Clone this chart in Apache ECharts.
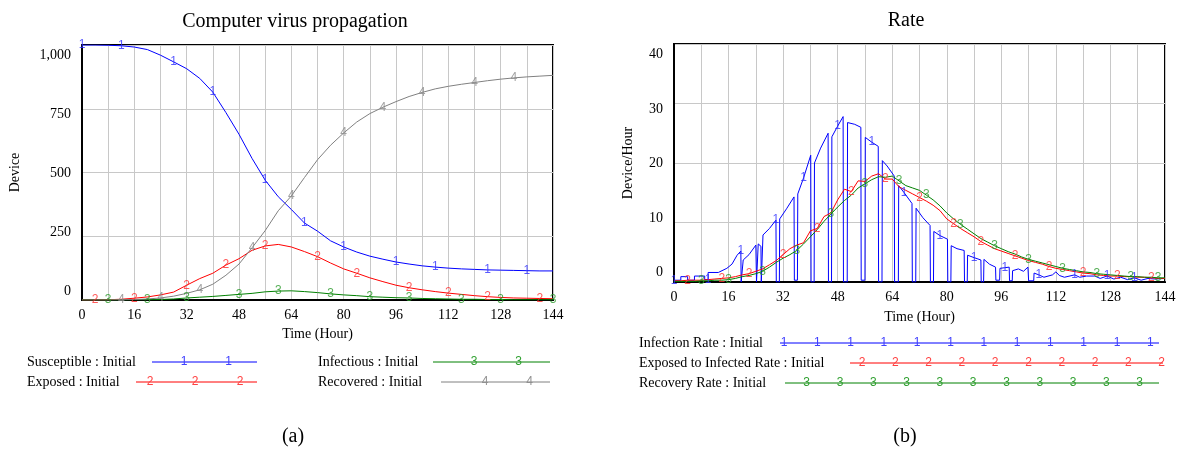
<!DOCTYPE html>
<html>
<head>
<meta charset="utf-8">
<title>Computer virus propagation</title>
<script src="https://cdn.jsdelivr.net/npm/echarts@6/dist/echarts.min.js"></script>
<style>
  html, body { margin: 0; padding: 0; background: #fff; }
  #chart { width: 1179px; height: 456px; }
</style>
</head>
<body>
<div id="chart"></div>
<script>
// (a) stock values, sampled every 4 hours
const hours4 = [0, 4, 8, 12, 16, 20, 24, 28, 32, 36, 40, 44, 48, 52, 56, 60, 64, 68, 72, 76,
  80, 84, 88, 92, 96, 100, 104, 108, 112, 116, 120, 124, 128, 132, 136, 140, 144];
const susceptible = [1000, 1000, 999, 997, 992, 982, 960, 934, 907, 869, 815, 735, 650, 555, 470, 405, 355, 302, 270, 232,
  208, 188, 172, 160, 149, 141, 134, 129, 125, 122, 120, 118, 117, 116, 115, 114, 114];
const exposed = [0, 0, 1, 3, 7, 12, 20, 31, 58, 84, 105, 137, 162, 195, 212, 218, 208, 190, 170, 145,
  122, 105, 87, 72, 58, 48, 40, 33, 27, 22, 17, 13, 10, 8, 7, 6, 5];
const infectious = [0, 0, 0, 0, 1, 1, 2, 4, 8, 11, 14, 18, 22, 26, 32, 35, 36, 33, 29, 24,
  20, 17, 13, 11, 9, 8, 6, 5, 4, 3, 3, 2, 2, 1, 1, 1, 1];
const recovered = [0, 0, 0, 1, 2, 4, 8, 15, 26, 40, 62, 97, 141, 205, 272, 350, 408, 480, 550, 607,
  655, 698, 731, 756, 778, 798, 814, 828, 838, 846, 853, 860, 866, 871, 875, 878, 881];

// (b) rates, sampled every 2 hours
const hours2 = [0, 2, 4, 6, 8, 10, 12, 14, 16, 18, 20, 22, 24, 26, 28, 30, 32, 34, 36, 38,
  40, 42, 44, 46, 48, 50, 52, 54, 56, 58, 60, 62, 64, 66, 68, 70, 72, 74, 76, 78,
  80, 82, 84, 86, 88, 90, 92, 94, 96, 98, 100, 102, 104, 106, 108, 110, 112, 114, 116, 118,
  120, 122, 124, 126, 128, 130, 132, 134, 136, 138, 140, 142, 144];
const exposedToInfectedRate = [0.2, 0.2, 0.3, 0.3, 0.3, 0.4, 0.5, 0.6, 0.7, 0.9, 1.2, 1.4, 1.8, 2.2, 2.9, 3.6, 4.6, 5.6, 6.2, 6.6,
  8.6, 9.0, 11.0, 11.6, 13.8, 15.6, 15.2, 17.0, 16.9, 17.8, 18.2, 17.3, 17.3, 16.0, 15.4, 14.8, 14.2, 13.6, 12.9, 12.0,
  10.6, 9.8, 9.0, 8.3, 7.6, 6.8, 6.2, 5.6, 5.2, 4.8, 4.4, 4.0, 3.6, 3.3, 3.0, 2.6, 2.3, 2.1, 1.9, 1.7,
  1.5, 1.4, 1.2, 1.1, 1.0, 1.0, 0.9, 0.9, 0.8, 0.8, 0.7, 0.6, 0.6];
const recoveryRate = [0.1, 0.1, 0.1, 0.1, 0.2, 0.2, 0.3, 0.3, 0.4, 0.6, 0.9, 1.1, 1.4, 1.8, 2.5, 3.3, 4.0, 4.6, 5.3, 6.4,
  7.6, 8.8, 10.2, 11.4, 12.6, 13.7, 14.6, 15.8, 16.5, 17.2, 17.7, 17.6, 17.8, 17.0, 16.2, 15.8, 15.4, 14.6, 13.8, 12.8,
  11.6, 10.6, 9.7, 8.9, 8.1, 7.3, 6.7, 6.1, 5.6, 5.1, 4.7, 4.2, 3.8, 3.5, 3.2, 2.9, 2.6, 2.3, 2.1, 1.9,
  1.7, 1.6, 1.4, 1.3, 1.2, 1.1, 1.0, 0.9, 0.9, 0.8, 0.8, 0.7, 0.7];
// infection rate is spiky (drops to zero), so it is kept as [hour, value] pairs
const infectionRate = [[0, 0.3], [2, 0.3], [2, 0.9], [4, 0.9], [4, 0.3], [6, 0.3], [6, 1.0], [9, 1.0], [9, 0.4], [10, 0.4],
  [10, 1.6], [13, 1.6], [13, 1.9], [15.5, 2.3], [17, 3.0], [18.5, 4.5], [19.6, 5.2], [19.7, 0], [20.2, 0], [20.3, 3.7],
  [22, 4.6], [24, 6.2], [24.2, 0], [24.6, 0], [24.7, 6.4], [25.5, 6.0], [25.6, 0], [26, 0], [26.1, 7.9], [28, 9.0],
  [29.9, 10.4], [30, 0], [30.9, 0], [31, 10.6], [33, 12.3], [35.2, 14.3], [35.3, 0.3], [36.2, 0.3], [36.3, 14.8], [38, 17.5],
  [40.1, 21.3], [40.2, 0], [41.1, 0], [41.2, 20.0], [43, 22.5], [45.2, 25.0], [45.3, 0], [46.2, 0], [46.3, 24.4], [48, 26.2],
  [49.6, 27.8], [49.7, 0], [50.8, 0], [50.9, 26.8], [53, 26.5], [54.8, 26.0], [54.9, 0.3], [56, 0.3], [56.1, 24.3], [58, 23.5],
  [59.9, 22.8], [60, 0], [61, 0], [61.1, 20.4], [62.5, 19.5], [64.6, 17.8], [64.7, 0], [65.8, 0], [65.9, 16.2], [67.5, 15.0],
  [69.8, 13.2], [69.9, 0], [70.9, 0], [71, 12.4], [73, 10.8], [75.1, 9.5], [75.2, 0], [76.1, 0], [76.2, 8.5], [78, 7.8],
  [80.2, 7.2], [80.3, 0], [81.2, 0], [81.3, 6.1], [83, 5.6], [85.1, 5.3], [85.2, 0], [86, 0], [86.1, 4.5], [88, 4.1],
  [90, 3.7], [90.1, 0], [90.8, 0], [90.9, 3.8], [92.5, 3.0], [94.3, 2.5], [94.4, 0.3], [95.5, 0.3], [95.6, 2.3], [97, 2.4],
  [98.3, 2.5], [98.4, 0.2], [99.2, 0.2], [99.3, 1.9], [101, 2.2], [102.5, 1.8], [103.8, 2.5], [104, 0.2], [105.5, 0.2], [105.6, 1.5],
  [107, 1.2], [108.5, 0.8], [111, 1.2], [112, 1.7], [113, 1.1], [114.5, 0.8], [117.5, 1.2], [119, 0.8], [121, 1.0], [123.4, 1.0],
  [125, 0.6], [127, 1.0], [129, 0.5], [131, 0.8], [133, 0.4], [135, 0.7], [137, 0.3], [139, 0.6], [141, 0.5], [144, 0.6]];

// tick labels
const timeLabels = [0, 16, 32, 48, 64, 80, 96, 112, 128, 144];
const deviceLabels = [0, 250, 500, 750, 1000];
const rateLabels = [0, 10, 20, 30, 40];

// hours at which the series numbers are printed on the lines
const marksS = [0, 13.6, 27.2, 40.8, 54.4, 68, 81.6, 95.2, 108.8, 122.4, 136];
const marksE = [3.4, 17, 30.6, 44.2, 57.8, 71.4, 85, 98.6, 112.2, 125.8, 139.4];
const marksI = [6.8, 20.4, 34, 47.6, 61.2, 74.8, 88.4, 102, 115.6, 129.2, 142.8];
const marksR = [10.2, 23.8, 37.4, 51, 64.6, 78.2, 91.8, 105.4, 119, 132.6];
const marksInf = [0, 9.7, 19.4, 29.1, 38.8, 48.5, 58.2, 67.9, 77.6, 87.3, 97, 106.7, 116.4, 126.1, 135.8];
const marksExp = [3.6, 13.3, 23, 32.7, 42.4, 52.1, 61.8, 71.5, 81.2, 90.9, 100.6, 110.3, 120, 129.7, 139.4];
const marksRec = [7.1, 16.8, 26.5, 36.2, 45.9, 55.6, 65.3, 75, 84.7, 94.4, 104.1, 113.8, 123.5, 133.2, 142.9];

const SERIF = '"Liberation Serif", "Times New Roman", serif';
const SANS = '"Liberation Sans", Arial, sans-serif';
const BLUE = '#0000ff', RED = '#ff0000', GREEN = '#008000', GRAY = '#808080';

const pairs = (xs, ys) => xs.map((x, i) => [x, ys[i]]);
// pick the sampled point nearest to each mark hour
function pickMarks(points, hours) {
  return hours.map(h => {
    let best = points[0];
    points.forEach(p => { if (Math.abs(p[0] - h) < Math.abs(best[0] - h)) best = p; });
    return best;
  });
}

function lineSeries(name, data, color, xi, yi) {
  return {
    name, type: 'line', data, xAxisIndex: xi, yAxisIndex: yi,
    symbol: 'none', showSymbol: false, silent: true,
    lineStyle: { color, width: 1 }, itemStyle: { color }, z: 3
  };
}
function markSeries(data, digit, color, xi, yi) {
  return {
    type: 'scatter', data, xAxisIndex: xi, yAxisIndex: yi, silent: true,
    symbol: 'circle', symbolSize: 1, itemStyle: { color: 'rgba(0,0,0,0)' },
    label: { show: true, position: 'inside', formatter: digit, color, fontFamily: SANS, fontSize: 12 },
    z: 5
  };
}

const sData = pairs(hours4, susceptible);
const eData = pairs(hours4, exposed);
const iData = pairs(hours4, infectious);
const rData = pairs(hours4, recovered);
const expRData = pairs(hours2, exposedToInfectedRate);
const recRData = pairs(hours2, recoveryRate);

function xAxisOf(grid, gap) {
  return {
    gridIndex: grid, type: 'value', min: 0, max: 144, interval: 8,
    name: 'Time (Hour)', nameLocation: 'middle', nameGap: gap,
    nameTextStyle: { fontFamily: SERIF, fontSize: 14, color: '#000' },
    axisLine: { show: true, lineStyle: { color: '#000', width: 2 } },
    axisTick: { show: false },
    axisLabel: {
      fontFamily: SERIF, fontSize: 14, color: '#000', margin: 8,
      formatter: v => timeLabels.includes(v) ? String(v) : ''
    },
    splitLine: { show: true, lineStyle: { color: '#c8c8c8', width: 1 } }
  };
}
function gridAxisOf(grid, max, step, name, gap) {
  return {
    gridIndex: grid, type: 'value', min: 0, max, interval: step,
    name, nameLocation: 'middle', nameGap: gap,
    nameTextStyle: { fontFamily: SERIF, fontSize: 14, color: '#000' },
    axisLine: { show: true, lineStyle: { color: '#000', width: 2 } },
    axisTick: { show: false }, axisLabel: { show: false },
    splitLine: { show: true, lineStyle: { color: '#c8c8c8', width: 1 } }
  };
}
// Vensim prints the value labels slightly squeezed against the grid, a second axis carries them
function labelAxisOf(grid, min, max, values) {
  return {
    gridIndex: grid, type: 'value', min, max, position: 'left',
    axisLine: { show: false }, axisTick: { show: false }, splitLine: { show: false },
    axisLabel: {
      customValues: values, margin: 11, fontFamily: SERIF, fontSize: 14, color: '#000',
      formatter: v => v.toLocaleString('en-US')
    }
  };
}

// legend rows drawn as text + line + digits
function legendRow(label, x, y, x1, x2, digitXs, digit, color, digitColor) {
  const els = [
    { type: 'text', x, y, style: { text: label, font: '14px ' + SERIF, fill: '#000', verticalAlign: 'middle' } },
    { type: 'line', shape: { x1, y1: y, x2, y2: y }, style: { stroke: color, lineWidth: 1 } }
  ];
  digitXs.forEach(dx => els.push({
    type: 'text', x: dx, y, style: { text: digit, font: '12px ' + SANS, fill: digitColor, align: 'center', verticalAlign: 'middle' }
  }));
  return els;
}
const evenly = (start, step, n) => Array.from({ length: n }, (_, k) => start + k * step);

const graphic = [
  { type: 'text', x: 295, y: 22, style: { text: 'Computer virus propagation', font: '20px ' + SERIF, fill: '#000', align: 'center', verticalAlign: 'middle' } },
  { type: 'text', x: 906, y: 21, style: { text: 'Rate', font: '20px ' + SERIF, fill: '#000', align: 'center', verticalAlign: 'middle' } },
  { type: 'text', x: 293, y: 437, style: { text: '(a)', font: '20px ' + SERIF, fill: '#000', align: 'center', verticalAlign: 'middle' } },
  { type: 'text', x: 905, y: 437, style: { text: '(b)', font: '20px ' + SERIF, fill: '#000', align: 'center', verticalAlign: 'middle' } },
  ...legendRow('Susceptible : Initial', 27, 362, 152, 257, [184, 228.5], '1', BLUE, '#4040ff'),
  ...legendRow('Exposed : Initial', 27, 382, 136, 257, [150, 195, 240], '2', RED, '#ff4040'),
  ...legendRow('Infectious : Initial', 318, 362, 433, 550, [474, 518.5], '3', GREEN, '#30a030'),
  ...legendRow('Recovered : Initial', 318, 382, 441, 550, [485, 529.6], '4', GRAY, '#909090'),
  ...legendRow('Infection Rate : Initial', 639, 343, 780, 1159, evenly(784, 33.3, 12), '1', BLUE, '#4040ff'),
  ...legendRow('Exposed to Infected Rate : Initial', 639, 363, 850, 1163, evenly(862, 33.3, 10), '2', RED, '#ff4040'),
  ...legendRow('Recovery Rate : Initial', 639, 383, 785, 1159, evenly(806.7, 33.3, 11), '3', GREEN, '#30a030')
];

const chart = echarts.init(document.getElementById('chart'));
chart.setOption({
  animation: false,
  backgroundColor: '#fff',
  grid: [
    { left: 82, top: 45, width: 471, height: 255, show: true, borderColor: '#000', borderWidth: 2, backgroundColor: '#fff', outerBoundsMode: 'none' },
    { left: 674, top: 44, width: 491, height: 238, show: true, borderColor: '#000', borderWidth: 2, backgroundColor: '#fff', outerBoundsMode: 'none' }
  ],
  xAxis: [xAxisOf(0, 27), xAxisOf(1, 28)],
  yAxis: [
    gridAxisOf(0, 1000, 250, 'Device', 60),
    labelAxisOf(0, -38.2, 1044.6, deviceLabels),
    gridAxisOf(1, 40, 10, 'Device/Hour', 39),
    labelAxisOf(1, -1.79, 41.97, rateLabels)
  ],
  graphic,
  series: [
    lineSeries('Susceptible', sData, BLUE, 0, 0),
    lineSeries('Exposed', eData, RED, 0, 0),
    lineSeries('Infectious', iData, GREEN, 0, 0),
    lineSeries('Recovered', rData, GRAY, 0, 0),
    markSeries(pickMarks(sData, marksS), '1', '#3030ff', 0, 0),
    markSeries(pickMarks(eData, marksE), '2', '#ff3030', 0, 0),
    markSeries(pickMarks(iData, marksI), '3', '#2a9a2a', 0, 0),
    markSeries(pickMarks(rData, marksR), '4', '#8a8a8a', 0, 0),
    lineSeries('Infection Rate', infectionRate, BLUE, 1, 2),
    lineSeries('Exposed to Infected Rate', expRData, RED, 1, 2),
    lineSeries('Recovery Rate', recRData, GREEN, 1, 2),
    markSeries(pickMarks(infectionRate, marksInf), '1', '#3030ff', 1, 2),
    markSeries(pickMarks(expRData, marksExp), '2', '#ff3030', 1, 2),
    markSeries(pickMarks(recRData, marksRec), '3', '#2a9a2a', 1, 2)
  ]
});
window.addEventListener('resize', () => chart.resize());
</script>
</body>
</html>
